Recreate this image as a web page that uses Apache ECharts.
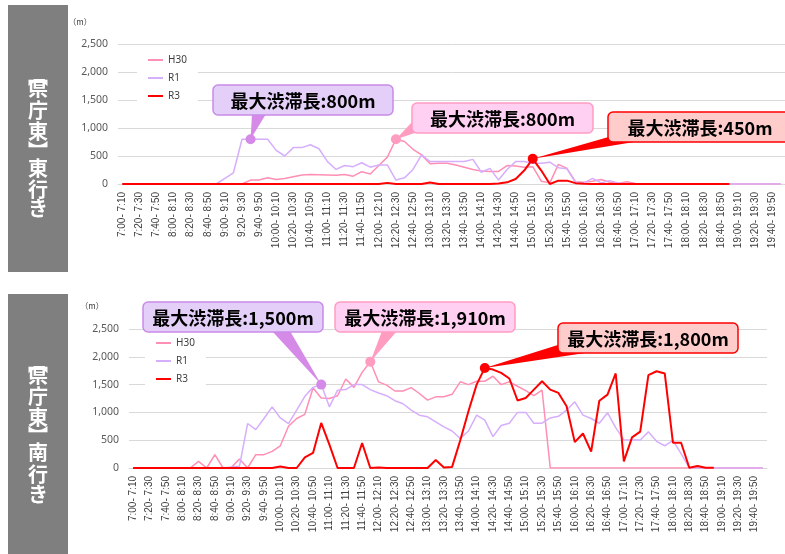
<!DOCTYPE html>
<html><head><meta charset="utf-8">
<script src="https://cdn.jsdelivr.net/npm/echarts@6/dist/echarts.min.js"></script>
<style>html,body{margin:0;padding:0;background:#fff}#main{width:785px;height:554px}</style>
</head><body><div id="main"></div>
<script>
const categories = [
"7:00- 7:10","7:10- 7:20","7:20- 7:30","7:30- 7:40","7:40- 7:50","7:50- 8:00",
"8:00- 8:10","8:10- 8:20","8:20- 8:30","8:30- 8:40","8:40- 8:50","8:50- 9:00",
"9:00- 9:10","9:10- 9:20","9:20- 9:30","9:30- 9:40","9:40- 9:50","9:50- 10:00",
"10:00- 10:10","10:10- 10:20","10:20- 10:30","10:30- 10:40","10:40- 10:50","10:50- 11:00",
"11:00- 11:10","11:10- 11:20","11:20- 11:30","11:30- 11:40","11:40- 11:50","11:50- 12:00",
"12:00- 12:10","12:10- 12:20","12:20- 12:30","12:30- 12:40","12:40- 12:50","12:50- 13:00",
"13:00- 13:10","13:10- 13:20","13:20- 13:30","13:30- 13:40","13:40- 13:50","13:50- 14:00",
"14:00- 14:10","14:10- 14:20","14:20- 14:30","14:30- 14:40","14:40- 14:50","14:50- 15:00",
"15:00- 15:10","15:10- 15:20","15:20- 15:30","15:30- 15:40","15:40- 15:50","15:50- 16:00",
"16:00- 16:10","16:10- 16:20","16:20- 16:30","16:30- 16:40","16:40- 16:50","16:50- 17:00",
"17:00- 17:10","17:10- 17:20","17:20- 17:30","17:30- 17:40","17:40- 17:50","17:50- 18:00",
"18:00- 18:10","18:10- 18:20","18:20- 18:30","18:30- 18:40","18:40- 18:50","18:50- 19:00",
"19:00- 19:10","19:10- 19:20","19:20- 19:30","19:30- 19:40","19:40- 19:50","19:50- 20:00"];

const seriesNames = ["H30","R1","R3"];
const yTicks = [0,500,1000,1500,2000,2500];

// 東行き
const eastH30 = [0,0,0,0,0,0,0,0,0,0,0,0,0,0,0,
 70,70,110,80,100,130,160,170,165,160,155,170,140,220,180,330,480,800,760,620,520,360,370,370,340,300,260,230,225,225,330,320,300,310,50,20,350,280,40,30,50,80,30,10,40,10,
 0,0,0,0,0,0,0,0,0,0,0,0,0,0,0,0,0];
const eastR1 = [0,0,0,0,0,0,0,0,0,0,0,0,
 100,200,800,800,800,800,600,500,650,650,700,630,400,260,330,310,380,300,340,340,70,110,260,520,400,400,400,400,400,440,210,280,70,260,400,400,370,370,390,290,270,30,20,100,20,60,20,10,
 0,0,0,0,0,0,0,0,0,0,0,0,0,0,0,0,0,0];
const eastR3 = [0,0,0,0,0,0,0,0,0,0,0,0,0,0,0,0,0,0,0,0,0,0,0,0,0,0,0,0,0,0,0,
 20,0,0,0,0,25,0,0,0,0,0,0,0,
 10,30,90,240,450,240,0,60,60,15,5,
 0,0,0,0,0,0,0,0,0,0,0,0,0,0,0,0,0,
 null,null,null,null,null,null];

// 南行き
const southH30 = [0,0,0,0,0,0,0,0,
 120,0,240,0,10,160,0,240,240,300,400,750,890,965,1440,1260,1250,1300,1600,1450,1720,1910,1550,1490,1385,1385,1445,1340,1220,1280,1280,1325,1550,1500,1560,1560,1650,1500,1550,1470,1390,1300,1400,
 0,0,0,0,0,0,0,0,0,0,0,0,0,0,0,0,0,0,0,0,0,0,0,0,0,0,0];
const southR1 = [0,0,0,0,0,0,0,0,0,0,0,0,
 20,30,800,690,890,1100,900,800,1040,1290,1450,1500,1100,1400,1410,1500,1500,1410,1350,1300,1210,1155,1040,950,920,830,740,665,530,665,950,860,565,765,805,1000,1000,805,805,900,930,1040,1190,950,890,805,995,725,505,505,505,650,480,400,495,260,
 0,0,0,0,0,0,0,0,0,0];
const southR3 = [0,0,0,0,0,0,0,0,0,0,0,0,0,0,0,0,0,0,
 25,0,0,190,270,810,420,0,0,0,450,0,10,
 0,0,0,0,0,0,
 145,10,20,500,1020,1500,1800,1770,1710,1610,1215,1260,1410,1560,1410,1350,1110,465,620,295,1210,1320,1700,120,550,655,1670,1740,1700,455,455,5,35,5,5,
 null,null,null,null,null,null];

const panelTitles = [["︻","県","庁","東","︼","東","行","き"],["︻","県","庁","東","︼","南","行","き"]];
const calloutText = ["最大渋滞長:800m","最大渋滞長:800m","最大渋滞長:450m","最大渋滞長:1,500m","最大渋滞長:1,910m","最大渋滞長:1,800m"];

const colors = ["#ff8fb3","#d6aefc","#ff0000"];
const chart = echarts.init(document.getElementById('main'));

function xAxis(i){
  return {type:'category', gridIndex:i, data:categories, boundaryGap:true,
    axisLine:{show:true,lineStyle:{color:'#d9d9d9',width:1}}, axisTick:{show:false},
    axisLabel:{interval:1, rotate:90, fontSize:10, color:'#404040', fontFamily:'Liberation Sans', margin:8}};
}
function yAxis(i){
  return {type:'value', gridIndex:i, min:yTicks[0], max:yTicks[yTicks.length-1], interval:yTicks[1]-yTicks[0],
    axisLine:{show:false}, axisTick:{show:false},
    splitLine:{lineStyle:{color:'#d9d9d9',width:1}},
    axisLabel:{fontSize:10.5, color:'#595959', fontFamily:'Noto Sans', margin:10,
      formatter:v=>v.toLocaleString('en-US')}};
}
function line(name, data, i, k){
  return {name, type:'line', xAxisIndex:i, yAxisIndex:i, data, showSymbol:false, symbol:'none',
    lineStyle:{color:colors[k], width: k===2?2:1.5}, itemStyle:{color:colors[k]}, z: 2+k, animation:false, silent:true};
}
function legend(left, top){
  return {orient:'vertical', left, top, padding:[4,11,4,11], backgroundColor:'#fff',
    itemWidth:15, itemHeight:2, itemGap:4, icon:'rect', data:seriesNames,
    textStyle:{fontSize:10, color:'#404040', fontFamily:'Noto Sans', lineHeight:14}};
}

chart.setOption({
  animation:false,
  grid:[{left:118, top:44, width:667, height:140},{left:129, top:329, width:638, height:139}],
  xAxis:[xAxis(0), xAxis(1)],
  yAxis:[yAxis(0), yAxis(1)],
  legend:[legend(137,49), legend(145,332)],
  series:[
    line(seriesNames[0], eastH30, 0, 0), line(seriesNames[1], eastR1, 0, 1), line(seriesNames[2], eastR3, 0, 2),
    line(seriesNames[0], southH30, 1, 0), line(seriesNames[1], southR1, 1, 1), line(seriesNames[2], southR3, 1, 2)
  ]
});

// annotations: [gridIndex, data, peakIndex, box[x,y,w,h], wedge base pts, fill, stroke, markerColor]
const notes = [
  [0, eastR1, 15, [213,85,180,30], [[252,114],[266,114]], '#e4cff8', '#c98be9', '#d68ae8'],
  [0, eastH30, 32, [412,103,181,30], [[413,121],[418,132]], '#ffd0f2', '#ff9cc4', '#ff9cc0'],
  [0, eastR3, 48, [608,112,184,30], [[612,136],[640,141]], '#ffcccc', '#ff0000', '#ff0000'],
  [1, southR1, 23, [143,302,180,30], [[272,331],[290,331]], '#e4cff8', '#c98be9', '#d68ae8'],
  [1, southH30, 29, [335,302,180,30], [[382,331],[397,331]], '#ffd0f2', '#ff9cc4', '#ff9cc0'],
  [1, southR3, 43, [558,323,180,30], [[561,344],[592,352]], '#ffcccc', '#ff0000', '#ff0000']
];
const g = [];
// gray side panels
[[8,5,60,267],[8,294,60,260]].forEach(r=>g.push({type:'rect',shape:{x:r[0],y:r[1],width:r[2],height:r[3]},style:{fill:'#7f7f7f'},z:1}));
const charY = [[76,88,110,131,151,168,189,208],[363,375,396,417,436,452,474,494]];
panelTitles.forEach((chars,p)=>chars.forEach((c,j)=>g.push({type:'text',z:2,style:{text:c,x:38,y:charY[p][j],
  textAlign:'center',textVerticalAlign:'middle',align:'center',verticalAlign:'middle',
  fontSize:20,fontWeight:'bold',fontFamily:'Noto Sans CJK JP',fill:'#fff'}})));
// unit labels
[[80,22],[92,306]].forEach(p=>g.push({type:'text',z:2,style:{text:'（m）',x:p[0],y:p[1],textAlign:'center',textVerticalAlign:'middle',align:'center',verticalAlign:'middle',fontSize:8,fontFamily:'Noto Sans CJK JP',fill:'#404040'}}));

notes.forEach((n,k)=>{
  const [gi, data, idx, box, base, fill, stroke, mc] = n;
  const p = chart.convertToPixel({xAxisIndex:gi, yAxisIndex:gi}, [idx, data[idx]]);
  g.push({type:'polygon', z:50, shape:{points:[base[0], base[1], p]}, style:{fill:mc}});
  g.push({type:'rect', z:51, shape:{x:box[0],y:box[1],width:box[2],height:box[3],r:5}, style:{fill, stroke, lineWidth:1.5}});
  g.push({type:'text', z:52, style:{text:calloutText[k], x:box[0]+box[2]/2, y:box[1]+box[3]/2+1,
    textAlign:'center',textVerticalAlign:'middle',align:'center',verticalAlign:'middle',
    fontSize:18, fontWeight:'bold', fontFamily:'Noto Sans CJK JP', fill:'#000'}});
  g.push({type:'circle', z:53, shape:{cx:p[0], cy:p[1], r:5}, style:{fill:mc}});
});
chart.setOption({graphic:g});
</script></body></html>
